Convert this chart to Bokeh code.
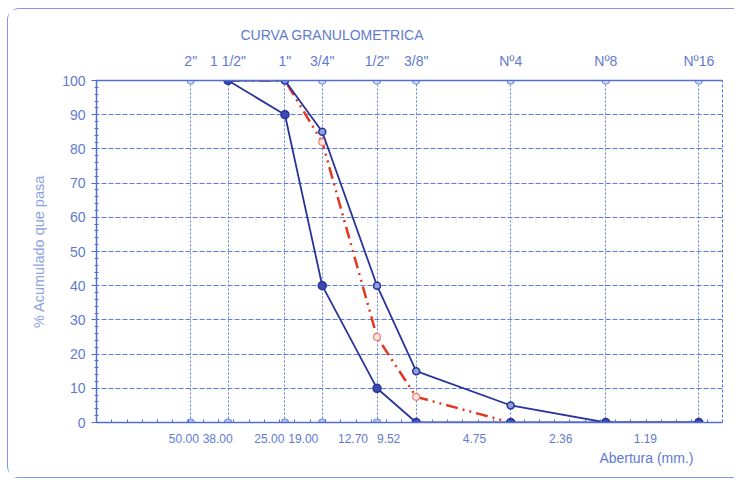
import math
from bokeh.plotting import figure
from bokeh.models import Range1d, FixedTicker, LogAxis, Title, LogScale
from bokeh.embed import file_html
from bokeh.resources import INLINE

# ---- data ----
sieve_mm = [50.0, 38.0, 25.0, 19.0, 12.7, 9.52, 4.75, 2.36, 1.19]
sieve_names = ['2"', '1 1/2"', '1"', '3/4"', '1/2"', '3/8"', 'Nº4', 'Nº8', 'Nº16']
sieve_labels = ["50.00", "38.00", "25.00", "19.00", "12.70", "9.52", "4.75", "2.36", "1.19"]
y_ticks = [0, 10, 20, 30, 40, 50, 60, 70, 80, 90, 100]

limit_x = [38.0, 25.0, 19.0, 12.7, 9.52, 4.75, 2.36, 1.19]
upper_y = [100, 100, 85, 40, 15, 5, 0, 0]
lower_y = [100, 90, 40, 10, 0, 0, 0, 0]

sample_x = [38.0, 25.0, 19.0, 12.7, 9.52, 4.75]
sample_y = [100, 100, 82, 25, 7.5, 0]

top_marks = [100] * len(sieve_mm)
bottom_marks = [0] * len(sieve_mm)

# ---- style ----
TXT = "#5f7bd0"
AX = "#4f6fd6"
GRID = "#5a7ee0"
NAVY = "#28349a"
RED = "#e5371f"
FONT = "Liberation Sans"
FS = "14px"

p = figure(width=727, height=470, x_axis_type="log", x_axis_location=None,
           x_range=Range1d(100, 1.0), y_range=Range1d(0, 100),
           output_backend="svg", toolbar_location=None,
           min_border_left=88, min_border_right=13, min_border_top=71, min_border_bottom=57,
           background_fill_color="white", border_fill_color="white")

# the printed size labels sit slightly left of their sieve lines in the original
LAB_START, LAB_END = 101.4, 0.637
p.extra_x_ranges = {"lab": Range1d(LAB_START, LAB_END)}
p.extra_x_scales = {"lab": LogScale()}

p.styles = {"margin-left": "7px", "margin-top": "8px",
            "border-top": "1.5px solid #7f9be6", "border-left": "1.5px solid #7f9be6",
            "border-bottom": "1.5px solid #7f9be6",
            "border-top-left-radius": "12px", "border-bottom-left-radius": "12px"}

p.outline_line_color = AX
p.outline_line_dash = "3 2"
p.outline_line_width = 1

# title
p.title.text = "CURVA GRANULOMETRICA"
p.title.align = "left"
p.title.offset = 144
p.title.text_font = FONT
p.title.text_font_size = FS
p.title.text_font_style = "normal"
p.title.text_color = TXT
p.title.standoff = 14

# bottom axis: line, small evenly spaced minor ticks, and the size labels
l0, l1 = math.log10(LAB_START), math.log10(LAB_END)
minor_x = [10 ** (l0 + (l1 - l0) * k / 41) for k in range(1, 41)]
bottom = LogAxis(x_range_name="lab", ticker=FixedTicker(ticks=sieve_mm, minor_ticks=minor_x),
                 major_label_overrides=dict(zip(sieve_mm, sieve_labels)),
                 axis_line_color=AX, axis_line_width=1.5,
                 major_tick_line_color=None, minor_tick_line_color=AX,
                 major_tick_out=0, major_tick_in=0, minor_tick_in=3, minor_tick_out=0,
                 major_label_standoff=11, major_label_text_font=FONT,
                 major_label_text_font_size="12px", major_label_text_color=TXT)
p.add_layout(bottom, "below")

p.add_layout(Title(text="Abertura (mm.)", align="right", offset=29,
                   text_font=FONT, text_font_size=FS, text_font_style="normal",
                   text_color=TXT, standoff=5), "below")

# top axis
top = LogAxis(ticker=FixedTicker(ticks=sieve_mm, minor_ticks=[]),
              major_label_overrides=dict(zip(sieve_mm, sieve_names)),
              major_tick_out=0, major_tick_in=0, minor_tick_in=0, minor_tick_out=0,
              axis_line_color=AX, axis_line_width=1.5,
              major_label_standoff=12, major_label_text_font=FONT,
              major_label_text_font_size=FS, major_label_text_color=TXT)
p.add_layout(top, "above")

# left axis
ya = p.yaxis[0]
ya.ticker = FixedTicker(ticks=y_ticks, minor_ticks=list(range(0, 101, 2)))
ya.major_tick_out = 5
ya.major_tick_in = 0
ya.minor_tick_out = 2
ya.minor_tick_in = 2
ya.major_tick_line_color = AX
ya.minor_tick_line_color = AX
ya.axis_line_color = AX
ya.axis_line_width = 1.5
ya.major_label_standoff = 6
ya.major_label_text_font = FONT
ya.major_label_text_font_size = FS
ya.major_label_text_color = TXT
ya.axis_label = "% Acumulado que pasa"
ya.axis_label_text_font = FONT
ya.axis_label_text_font_size = "14.5px"
ya.axis_label_text_font_style = "normal"
ya.axis_label_text_color = "#8ea3dd"
ya.axis_label_standoff = 12

# grids
p.xgrid.ticker = FixedTicker(ticks=sieve_mm)
p.xgrid.grid_line_color = GRID
p.xgrid.grid_line_dash = "2 2"
p.xgrid.grid_line_width = 1
p.ygrid.grid_line_color = GRID
p.ygrid.grid_line_dash = "5 2"
p.ygrid.grid_line_width = 1

# axis markers
p.scatter(sieve_mm, top_marks, size=7, line_color="#6f8fe0", fill_color="#dfe6fa", line_width=1.2)
p.scatter(sieve_mm, bottom_marks, size=7, line_color="#6f8fe0", fill_color="#b9c8f2", line_width=1.2)

# sample curve (red dash-dot-dot)
p.line(sample_x, sample_y, line_color=RED, line_width=2.5, line_dash="12 5 2 5 2 5")
p.scatter(sample_x[2:5], sample_y[2:5], size=7, line_color="#e88070", fill_color="#fbe3df", line_width=1.2)

# limits
p.line(limit_x, upper_y, line_color=NAVY, line_width=1.8)
p.line(limit_x, lower_y, line_color=NAVY, line_width=1.8)
p.scatter(limit_x, upper_y, size=7, line_color=NAVY, fill_color="#8fa0e0", line_width=1.5)
p.scatter(limit_x, lower_y, size=8, line_color=NAVY, fill_color="#3a4ab0", line_width=1.5)

open("out.html", "w").write(file_html(p, INLINE))
